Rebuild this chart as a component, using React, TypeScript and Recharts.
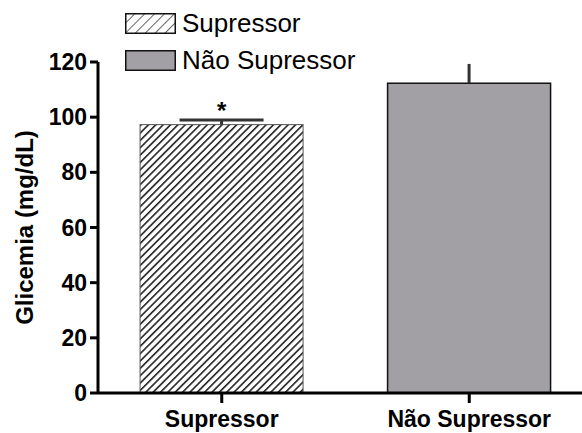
import React from 'react';
import { BarChart, Bar, XAxis, YAxis, Cell, LabelList, Legend } from 'recharts';

const categories = ['Supressor', 'Não Supressor'];
const glycemia = [97.3, 112.3];
const sem = [1.7, 7.0];
const marks = ['*', ''];
const yTicks = [0, 20, 40, 60, 80, 100, 120];

const data = categories.map((name, i) => ({ name, value: glycemia[i], err: sem[i], mark: marks[i] }));

const FONT = '"Liberation Sans", Arial, Helvetica, sans-serif';
const fills = ['url(#hatch)', '#a2a0a5'];
const strokes = ['#555', '#111'];
const capHalf = [42, 0];

const BarWithError = (props: any) => {
  const { x, y, width, height, index, payload } = props;
  const perUnit = height / payload.value;
  const top = y - payload.err * perUnit;
  const cx = x + width / 2;
  const half = capHalf[index];
  return (
    <g>
      <rect x={x} y={y} width={width} height={height} fill={fills[index]} stroke={strokes[index]} strokeWidth={index === 0 ? 1 : 1.5} />
      <line x1={cx} y1={y} x2={cx} y2={top} stroke="#333" strokeWidth={3} />
      {half > 0 && <line x1={cx - half} y1={top} x2={cx + half} y2={top} stroke="#333" strokeWidth={3} />}
    </g>
  );
};

const YLabel = (props: any) => {
  const { viewBox } = props;
  const cy = viewBox.y + viewBox.height / 2;
  return (
    <text x={33} y={cy} transform={`rotate(-90, 33, ${cy})`} textAnchor="middle" fontSize={24} fontWeight="bold" fontFamily={FONT} fill="#000">
      Glicemia (mg/dL)
    </text>
  );
};

const renderLegend = () => (
  <div style={{ fontFamily: FONT, fontSize: 26, color: '#000' }}>
    {categories.map((name, i) => (
      <div key={name} style={{ display: 'flex', alignItems: 'center', height: 20, lineHeight: '20px', marginBottom: 17 }}>
        <svg width={51} height={21} style={{ marginRight: 6 }}>
          <defs>
            <pattern id="hatchLegend" patternUnits="userSpaceOnUse" width={7} height={7} patternTransform="rotate(45)">
              <rect width={7} height={7} fill="#fff" />
              <line x1={0} y1={0} x2={0} y2={7} stroke="#222" strokeWidth={1.4} />
            </pattern>
          </defs>
          <rect x={0.75} y={0.75} width={49.5} height={19.5} fill={i === 0 ? 'url(#hatchLegend)' : fills[1]} stroke="#111" strokeWidth={1.5} />
        </svg>
        <span style={{ whiteSpace: 'nowrap' }}>{name}</span>
      </div>
    ))}
  </div>
);

export default function App() {
  const tickStyle = { fontSize: 23, fontWeight: 'bold', fill: '#000', fontFamily: FONT };
  return (
    <div style={{ position: 'absolute', left: 0, top: 0, width: 600, height: 433, background: '#fff' }}>
      <BarChart width={600} height={433} data={data} margin={{ top: 62, right: 7, left: 0, bottom: 0 }} barCategoryGap="17%">
        <defs>
          <pattern id="hatch" patternUnits="userSpaceOnUse" width={5.2} height={5.2} patternTransform="rotate(45)">
            <rect width={5.2} height={5.2} fill="#fff" />
            <line x1={0.8} y1={0} x2={0.8} y2={5.2} stroke="#222" strokeWidth={1.6} />
          </pattern>
        </defs>
        <Legend layout="horizontal" verticalAlign="middle" align="center" wrapperStyle={{ top: 13, left: 125, width: 'auto', height: 'auto' }} content={renderLegend} />
        <XAxis
          dataKey="name"
          height={40}
          axisLine={{ stroke: '#000', strokeWidth: 3 }}
          tickLine={{ stroke: '#000', strokeWidth: 3 }}
          tickSize={10}
          tickMargin={8}
          tick={tickStyle}
          interval={0}
        />
        <YAxis
          width={98}
          domain={[0, 120]}
          ticks={yTicks}
          axisLine={{ stroke: '#000', strokeWidth: 3 }}
          tickLine={{ stroke: '#000', strokeWidth: 3 }}
          tickSize={8}
          tickMargin={3}
          tick={tickStyle}
          label={<YLabel />}
        />
        <Bar dataKey="value" shape={<BarWithError />} isAnimationActive={false}>
          {data.map((d, i) => (
            <Cell key={d.name} fill={fills[i]} />
          ))}
          <LabelList dataKey="mark" position="top" offset={6} fill="#000" fontSize={24} fontWeight="bold" fontFamily={FONT} />
        </Bar>
      </BarChart>
    </div>
  );
}
